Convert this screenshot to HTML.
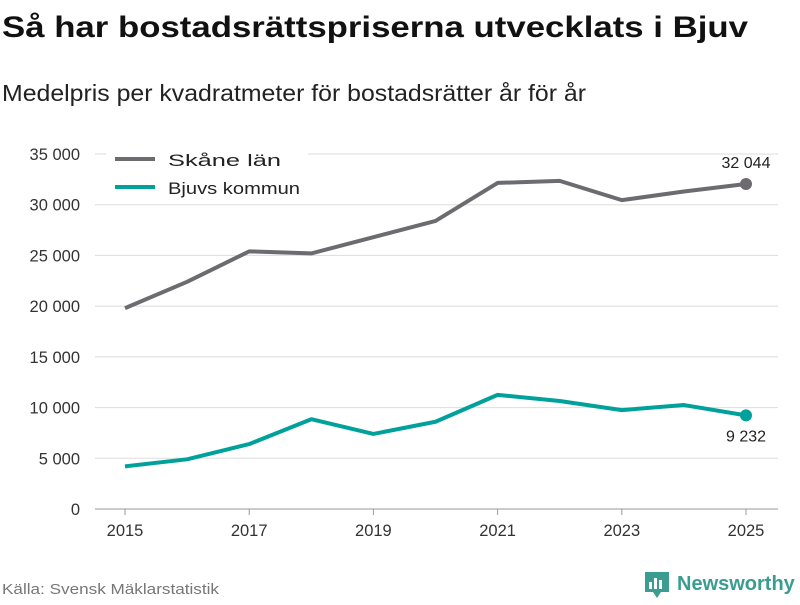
<!DOCTYPE html>
<html><head><meta charset="utf-8"><style>
body{margin:0;background:#fff;font-family:"Liberation Sans",sans-serif;}
svg text{font-family:"Liberation Sans",sans-serif;}
</style></head><body>
<svg width="800" height="600" viewBox="0 0 800 600">
<text x="2" y="37" font-size="30" font-weight="bold" fill="#111" textLength="746" lengthAdjust="spacingAndGlyphs">Så har bostadsrättspriserna utvecklats i Bjuv</text>
<text x="2" y="101" font-size="23" fill="#222" textLength="584" lengthAdjust="spacingAndGlyphs">Medelpris per kvadratmeter för bostadsrätter år för år</text>
<g id="grid"></g><g id="yticks"></g><g id="xticks"></g><g id="series"></g>
<rect x="106" y="146" width="202" height="58" fill="#fff"/>
<line x1="115" y1="159" x2="155" y2="159" stroke="#6d6b70" stroke-width="4"/>
<text x="168" y="166" font-size="17" fill="#222" textLength="113" lengthAdjust="spacingAndGlyphs">Skåne län</text>
<line x1="115" y1="187" x2="155" y2="187" stroke="#00a19a" stroke-width="4"/>
<text x="168" y="194" font-size="17" fill="#222" textLength="132" lengthAdjust="spacingAndGlyphs">Bjuvs kommun</text>
<text x="2" y="594" font-size="15" fill="#777" textLength="217" lengthAdjust="spacingAndGlyphs">Källa: Svensk Mäklarstatistik</text>
<g>
<path d="M645 572 h24 v20 h-8 l-4 6 l-4 -6 h-8 z" fill="#3a9d8f"/>
<rect x="649" y="582" width="3" height="7" fill="#fff"/><rect x="654" y="578" width="3" height="11" fill="#fff"/><rect x="659" y="580" width="3" height="9" fill="#fff"/>
<text x="677" y="590" font-size="20" font-weight="bold" fill="#3a9d8f">Newsworthy</text>
</g>
</svg>
<script>
const years=[2015,2016,2017,2018,2019,2020,2021,2022,2023,2024,2025];
const skane=[19800,22400,25400,25200,26800,28400,32150,32350,30450,31300,32044];
const bjuv=[4200,4900,6400,8850,7400,8600,11250,10650,9750,10250,9232];
const yTicks=[0,5000,10000,15000,20000,25000,30000,35000];
const xTicks=[2015,2017,2019,2021,2023,2025];
const NS="http://www.w3.org/2000/svg";
const xs=y=>125+(y-2015)*62.1;
const ys=v=>509-v*355/35000;
const fmt=v=>String(v).replace(/\B(?=(\d{3})+(?!\d))/g," ");
function mk(tag,attrs,parent){const e=document.createElementNS(NS,tag);for(const k in attrs)e.setAttribute(k,attrs[k]);document.getElementById(parent).appendChild(e);return e;}
yTicks.forEach(v=>{
 const l=mk('line',{x1:95,x2:778,y1:ys(v),y2:ys(v),stroke:v===0?'#999':'#ddd','stroke-width':1},'grid');
 
 
 const t=mk('text',{x:80,y:ys(v)+6,'text-anchor':'end','font-size':16.5,fill:'#333'},'yticks');
 t.textContent=fmt(v);
 
 
});
xTicks.forEach(y=>{
 const l=mk('line',{x1:xs(y),x2:xs(y),y1:509,y2:515,stroke:'#999'},'xticks');
 
 
 const t=mk('text',{x:xs(y),y:536,'text-anchor':'middle','font-size':16.5,fill:'#333'},'xticks');
 t.textContent=y;
 
 
});
function series(vals,color,name,labelDy){
 const p=mk('polyline',{points:vals.map((v,i)=>xs(years[i])+','+ys(v)).join(' '),fill:'none',stroke:color,'stroke-width':4,'stroke-linejoin':'round'},'series');
 
 
 const last=vals.length-1;
 const c=mk('circle',{cx:xs(years[last]),cy:ys(vals[last]),r:6,fill:color},'series');
 
 
 const t=mk('text',{x:xs(years[last]),y:ys(vals[last])+labelDy,'text-anchor':'middle','font-size':16,fill:'#222'},'series');
 t.textContent=fmt(vals[last]);
 
 
}
series(skane,'#6d6b70','skane',-16);
series(bjuv,'#00a19a','bjuv',26);
</script>
</body></html>
